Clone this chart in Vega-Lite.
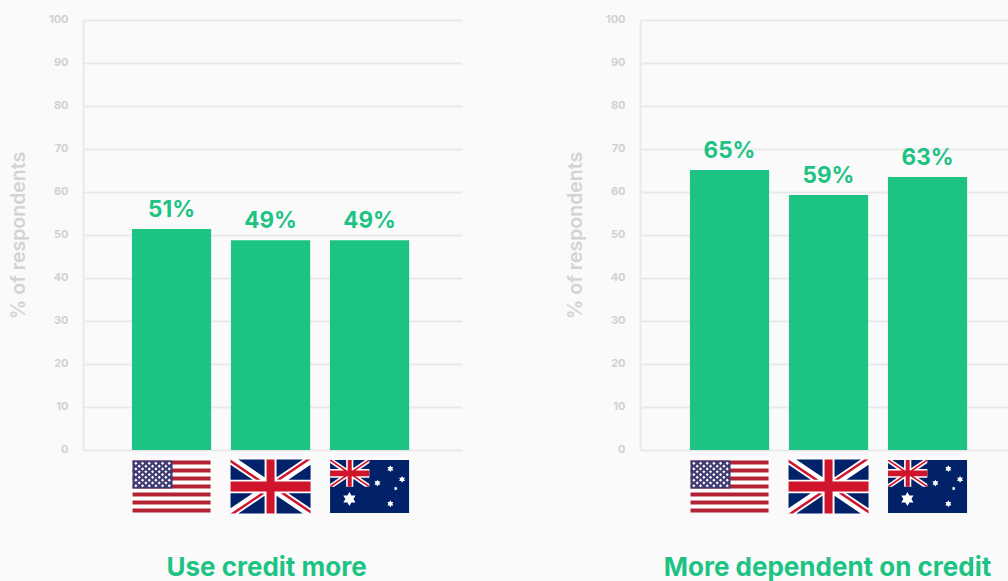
{"$schema":"https://vega.github.io/schema/vega-lite/v6.json","background":"#fafafa","padding":{"left":8,"top":13,"right":0,"bottom":0},"bounds":"flush","spacing":178,"datasets":{"flags":[{"country":"US"},{"country":"UK"},{"country":"AU"}]},"config":{"view":{"stroke":null},"font":"Inter"},"hconcat":[
{"width":379,"height":430,"encoding":{"x":{"field":"country","type":"nominal","axis":null,"sort":null,"scale":{"domain":["US","UK","AU"],"paddingInner":0.2,"paddingOuter":0.514,"align":0.481}}},"resolve":{"scale":{"shape":"independent"}},"layer":[
{"data":{"values":[{"country":"US","value":51.4,"label":"51%"},{"country":"UK","value":48.8,"label":"49%"},{"country":"AU","value":48.8,"label":"49%"}]},"mark":{"type":"bar","color":"#1dc383"},"encoding":{"y":{"field":"value","type":"quantitative","scale":{"domain":[0,100],"nice":false},"axis":{"values":[0,10,20,30,40,50,60,70,80,90,100],"title":"% of respondents","titleFont":"Inter","titleFontSize":19.5,"titleFontWeight":600,"titleColor":"#d3d3d6","titleX":-65,"titleY":215,"titleAlign":"center","titleBaseline":"middle","labelFont":"Inter","labelFontSize":11,"labelFontWeight":700,"labelColor":"#d0d0d4","labelPadding":15,"labelOffset":-1,"ticks":false,"domainColor":"#e9e9eb","domainWidth":2,"gridColor":"#e9e9eb","gridWidth":2,"grid":true}}}},
{"data":{"values":[{"country":"US","value":51.4,"label":"51%"},{"country":"UK","value":48.8,"label":"49%"},{"country":"AU","value":48.8,"label":"49%"}]},"mark":{"type":"text","font":"Inter","fontSize":22.5,"fontWeight":700,"color":"#1dc383","baseline":"bottom","dy":-7},"encoding":{"y":{"field":"value","type":"quantitative"},"text":{"field":"label"}}},
{"data":{"name":"flags"},"mark":{"type":"point","filled":true,"opacity":1,"size":6400,"color":"#ffffff"},"encoding":{"y":{"datum":-8.5},"shape":{"field":"country","type":"nominal","legend":null,"scale":{"domain":["US","UK","AU"],"range":["M-.975 -.65H.975V.65H-.975Z","M-1 -.675H1V.675H-1Z","M0 0Z"]}}}},
{"data":{"name":"flags"},"mark":{"type":"point","filled":true,"opacity":1,"size":6400,"color":"#b22234"},"encoding":{"y":{"datum":-8.5},"shape":{"field":"country","type":"nominal","legend":null,"scale":{"domain":["US","UK","AU"],"range":["M-.975 -.65H.975V-.55H-.975ZM-.975 -.45H.975V-.35H-.975ZM-.975 -.25H.975V-.15H-.975ZM-.975 -.05H.975V.05H-.975ZM-.975 .15H.975V.25H-.975ZM-.975 .35H.975V.45H-.975ZM-.975 .55H.975V.65H-.975Z","M0 0Z","M0 0Z"]}}}},
{"data":{"name":"flags"},"mark":{"type":"point","filled":true,"opacity":1,"size":6400,"color":"#3f3a72"},"encoding":{"y":{"datum":-8.5},"shape":{"field":"country","type":"nominal","legend":null,"scale":{"domain":["US","UK","AU"],"range":["M-.975 -.65H.025V.05H-.975Z","M0 0Z","M0 0Z"]}}}},
{"data":{"name":"flags"},"mark":{"type":"point","filled":true,"opacity":1,"size":6400,"color":"#012169"},"encoding":{"y":{"datum":-8.5},"shape":{"field":"country","type":"nominal","legend":null,"scale":{"domain":["US","UK","AU"],"range":["M0 0Z","M-.807 -.675L-.15 -.675 -.15 -.231ZM-1 -.545L-1 -.17 -.444 -.17ZM.807 -.675L.15 -.675 .15 -.231ZM1 -.545L1 -.17 .444 -.17ZM-.807 .675L-.15 .675 -.15 .231ZM-1 .545L-1 .17 -.444 .17ZM.807 .675L.15 .675 .15 .231ZM1 .545L1 .17 .444 .17Z","M-.9875 -.6625H.9875V.6625H-.9875Z"]}}}},
{"data":{"name":"flags"},"mark":{"type":"point","filled":true,"opacity":1,"size":6400,"color":"#ffffff"},"encoding":{"y":{"datum":-8.5},"shape":{"field":"country","type":"nominal","legend":null,"scale":{"domain":["US","UK","AU"],"range":["M-.892 -.62l.04 .04 -.04 .04 -.04 -.04ZM-.725 -.62l.04 .04 -.04 .04 -.04 -.04ZM-.558 -.62l.04 .04 -.04 .04 -.04 -.04ZM-.392 -.62l.04 .04 -.04 .04 -.04 -.04ZM-.225 -.62l.04 .04 -.04 .04 -.04 -.04ZM-.058 -.62l.04 .04 -.04 .04 -.04 -.04ZM-.808 -.55l.04 .04 -.04 .04 -.04 -.04ZM-.642 -.55l.04 .04 -.04 .04 -.04 -.04ZM-.475 -.55l.04 .04 -.04 .04 -.04 -.04ZM-.308 -.55l.04 .04 -.04 .04 -.04 -.04ZM-.142 -.55l.04 .04 -.04 .04 -.04 -.04ZM-.892 -.48l.04 .04 -.04 .04 -.04 -.04ZM-.725 -.48l.04 .04 -.04 .04 -.04 -.04ZM-.558 -.48l.04 .04 -.04 .04 -.04 -.04ZM-.392 -.48l.04 .04 -.04 .04 -.04 -.04ZM-.225 -.48l.04 .04 -.04 .04 -.04 -.04ZM-.058 -.48l.04 .04 -.04 .04 -.04 -.04ZM-.808 -.41l.04 .04 -.04 .04 -.04 -.04ZM-.642 -.41l.04 .04 -.04 .04 -.04 -.04ZM-.475 -.41l.04 .04 -.04 .04 -.04 -.04ZM-.308 -.41l.04 .04 -.04 .04 -.04 -.04ZM-.142 -.41l.04 .04 -.04 .04 -.04 -.04ZM-.892 -.34l.04 .04 -.04 .04 -.04 -.04ZM-.725 -.34l.04 .04 -.04 .04 -.04 -.04ZM-.558 -.34l.04 .04 -.04 .04 -.04 -.04ZM-.392 -.34l.04 .04 -.04 .04 -.04 -.04ZM-.225 -.34l.04 .04 -.04 .04 -.04 -.04ZM-.058 -.34l.04 .04 -.04 .04 -.04 -.04ZM-.808 -.27l.04 .04 -.04 .04 -.04 -.04ZM-.642 -.27l.04 .04 -.04 .04 -.04 -.04ZM-.475 -.27l.04 .04 -.04 .04 -.04 -.04ZM-.308 -.27l.04 .04 -.04 .04 -.04 -.04ZM-.142 -.27l.04 .04 -.04 .04 -.04 -.04ZM-.892 -.2l.04 .04 -.04 .04 -.04 -.04ZM-.725 -.2l.04 .04 -.04 .04 -.04 -.04ZM-.558 -.2l.04 .04 -.04 .04 -.04 -.04ZM-.392 -.2l.04 .04 -.04 .04 -.04 -.04ZM-.225 -.2l.04 .04 -.04 .04 -.04 -.04ZM-.058 -.2l.04 .04 -.04 .04 -.04 -.04ZM-.808 -.13l.04 .04 -.04 .04 -.04 -.04ZM-.642 -.13l.04 .04 -.04 .04 -.04 -.04ZM-.475 -.13l.04 .04 -.04 .04 -.04 -.04ZM-.308 -.13l.04 .04 -.04 .04 -.04 -.04ZM-.142 -.13l.04 .04 -.04 .04 -.04 -.04ZM-.892 -.06l.04 .04 -.04 .04 -.04 -.04ZM-.725 -.06l.04 .04 -.04 .04 -.04 -.04ZM-.558 -.06l.04 .04 -.04 .04 -.04 -.04ZM-.392 -.06l.04 .04 -.04 .04 -.04 -.04ZM-.225 -.06l.04 .04 -.04 .04 -.04 -.04ZM-.058 -.06l.04 .04 -.04 .04 -.04 -.04Z","M0 0Z","M-.9875 -.6625L-.885 -.6625 -.005 -.065 -.005 .005 -.115 .005 -.9875 -.59ZM-.9875 .005L-.9875 -.065 -.107 -.6625 -.005 -.6625 -.005 -.59 -.885 .005ZM-.586 -.6625H-.406V.005H-.586ZM-.9875 -.439H-.005V-.219H-.9875ZM.52 -.531L.594 -.4035 .446 -.4035ZM.52 -.361L.446 -.4885 .594 -.4885ZM.8125 -.265L.8865 -.1375 .7385 -.1375ZM.8125 -.095L.7385 -.2225 .8865 -.2225ZM.196 -.1725L.27 -.045 .122 -.045ZM.196 -.0025L.122 -.13 .27 -.13ZM.654 -.004L.697 .071 .611 .071ZM.654 .096L.611 .021 .697 .021ZM.52 .345L.594 .4725 .446 .4725ZM.52 .515L.446 .3875 .594 .3875ZM-.504 .1375L-.352 .4 -.656 .4ZM-.504 .4875L-.656 .225 -.352 .225Z"]}}}},
{"data":{"name":"flags"},"mark":{"type":"point","filled":true,"opacity":1,"size":6400,"color":"#cf142b"},"encoding":{"y":{"datum":-8.5},"shape":{"field":"country","type":"nominal","legend":null,"scale":{"domain":["US","UK","AU"],"range":["M0 0Z","M-1 -.675L-.25 -.17 -.363 -.17 -1 -.6ZM1 -.675L.889 -.675 .15 -.176 .25 -.17ZM1 .675L.25 .17 .363 .17 1 .6ZM-1 .675L-.889 .675 -.15 .176 -.25 .17ZM-.1 -.675H.1V.675H-.1ZM-1 -.125H1V.125H-1Z","M-.9875 -.6625L-.95 -.6625 -.005 -.02 -.005 .005 -.04 .005 -.9875 -.64ZM-.9875 .005L-.9875 -.02 -.04 -.6625 -.005 -.6625 -.005 -.64 -.95 .005ZM-.546 -.6625H-.446V.005H-.546ZM-.9875 -.399H-.005V-.259H-.9875Z"]}}}},
{"data":{"values":[{"caption":"Use credit more"}]},"mark":{"type":"text","font":"Inter","fontSize":26,"fontWeight":700,"color":"#1dc383","baseline":"middle","dx":-4},"encoding":{"x":{"datum":"UK"},"y":{"datum":-27.4},"text":{"field":"caption"}}}
]},
{"width":368,"height":430,"encoding":{"x":{"field":"country","type":"nominal","axis":null,"sort":null,"scale":{"domain":["US","UK","AU"],"paddingInner":0.2,"paddingOuter":0.4586,"align":0.55}}},"resolve":{"scale":{"shape":"independent"}},"layer":[
{"data":{"values":[{"country":"US","value":65.1,"label":"65%"},{"country":"UK","value":59.3,"label":"59%"},{"country":"AU","value":63.5,"label":"63%"}]},"mark":{"type":"bar","color":"#1dc383"},"encoding":{"y":{"field":"value","type":"quantitative","scale":{"domain":[0,100],"nice":false},"axis":{"values":[0,10,20,30,40,50,60,70,80,90,100],"title":"% of respondents","titleFont":"Inter","titleFontSize":19.5,"titleFontWeight":600,"titleColor":"#d3d3d6","titleX":-65,"titleY":215,"titleAlign":"center","titleBaseline":"middle","labelFont":"Inter","labelFontSize":11,"labelFontWeight":700,"labelColor":"#d0d0d4","labelPadding":15,"labelOffset":-1,"ticks":false,"domainColor":"#e9e9eb","domainWidth":2,"gridColor":"#e9e9eb","gridWidth":2,"grid":true}}}},
{"data":{"values":[{"country":"US","value":65.1,"label":"65%"},{"country":"UK","value":59.3,"label":"59%"},{"country":"AU","value":63.5,"label":"63%"}]},"mark":{"type":"text","font":"Inter","fontSize":22.5,"fontWeight":700,"color":"#1dc383","baseline":"bottom","dy":-7},"encoding":{"y":{"field":"value","type":"quantitative"},"text":{"field":"label"}}},
{"data":{"name":"flags"},"mark":{"type":"point","filled":true,"opacity":1,"size":6400,"color":"#ffffff"},"encoding":{"y":{"datum":-8.5},"shape":{"field":"country","type":"nominal","legend":null,"scale":{"domain":["US","UK","AU"],"range":["M-.975 -.65H.975V.65H-.975Z","M-1 -.675H1V.675H-1Z","M0 0Z"]}}}},
{"data":{"name":"flags"},"mark":{"type":"point","filled":true,"opacity":1,"size":6400,"color":"#b22234"},"encoding":{"y":{"datum":-8.5},"shape":{"field":"country","type":"nominal","legend":null,"scale":{"domain":["US","UK","AU"],"range":["M-.975 -.65H.975V-.55H-.975ZM-.975 -.45H.975V-.35H-.975ZM-.975 -.25H.975V-.15H-.975ZM-.975 -.05H.975V.05H-.975ZM-.975 .15H.975V.25H-.975ZM-.975 .35H.975V.45H-.975ZM-.975 .55H.975V.65H-.975Z","M0 0Z","M0 0Z"]}}}},
{"data":{"name":"flags"},"mark":{"type":"point","filled":true,"opacity":1,"size":6400,"color":"#3f3a72"},"encoding":{"y":{"datum":-8.5},"shape":{"field":"country","type":"nominal","legend":null,"scale":{"domain":["US","UK","AU"],"range":["M-.975 -.65H.025V.05H-.975Z","M0 0Z","M0 0Z"]}}}},
{"data":{"name":"flags"},"mark":{"type":"point","filled":true,"opacity":1,"size":6400,"color":"#012169"},"encoding":{"y":{"datum":-8.5},"shape":{"field":"country","type":"nominal","legend":null,"scale":{"domain":["US","UK","AU"],"range":["M0 0Z","M-.807 -.675L-.15 -.675 -.15 -.231ZM-1 -.545L-1 -.17 -.444 -.17ZM.807 -.675L.15 -.675 .15 -.231ZM1 -.545L1 -.17 .444 -.17ZM-.807 .675L-.15 .675 -.15 .231ZM-1 .545L-1 .17 -.444 .17ZM.807 .675L.15 .675 .15 .231ZM1 .545L1 .17 .444 .17Z","M-.9875 -.6625H.9875V.6625H-.9875Z"]}}}},
{"data":{"name":"flags"},"mark":{"type":"point","filled":true,"opacity":1,"size":6400,"color":"#ffffff"},"encoding":{"y":{"datum":-8.5},"shape":{"field":"country","type":"nominal","legend":null,"scale":{"domain":["US","UK","AU"],"range":["M-.892 -.62l.04 .04 -.04 .04 -.04 -.04ZM-.725 -.62l.04 .04 -.04 .04 -.04 -.04ZM-.558 -.62l.04 .04 -.04 .04 -.04 -.04ZM-.392 -.62l.04 .04 -.04 .04 -.04 -.04ZM-.225 -.62l.04 .04 -.04 .04 -.04 -.04ZM-.058 -.62l.04 .04 -.04 .04 -.04 -.04ZM-.808 -.55l.04 .04 -.04 .04 -.04 -.04ZM-.642 -.55l.04 .04 -.04 .04 -.04 -.04ZM-.475 -.55l.04 .04 -.04 .04 -.04 -.04ZM-.308 -.55l.04 .04 -.04 .04 -.04 -.04ZM-.142 -.55l.04 .04 -.04 .04 -.04 -.04ZM-.892 -.48l.04 .04 -.04 .04 -.04 -.04ZM-.725 -.48l.04 .04 -.04 .04 -.04 -.04ZM-.558 -.48l.04 .04 -.04 .04 -.04 -.04ZM-.392 -.48l.04 .04 -.04 .04 -.04 -.04ZM-.225 -.48l.04 .04 -.04 .04 -.04 -.04ZM-.058 -.48l.04 .04 -.04 .04 -.04 -.04ZM-.808 -.41l.04 .04 -.04 .04 -.04 -.04ZM-.642 -.41l.04 .04 -.04 .04 -.04 -.04ZM-.475 -.41l.04 .04 -.04 .04 -.04 -.04ZM-.308 -.41l.04 .04 -.04 .04 -.04 -.04ZM-.142 -.41l.04 .04 -.04 .04 -.04 -.04ZM-.892 -.34l.04 .04 -.04 .04 -.04 -.04ZM-.725 -.34l.04 .04 -.04 .04 -.04 -.04ZM-.558 -.34l.04 .04 -.04 .04 -.04 -.04ZM-.392 -.34l.04 .04 -.04 .04 -.04 -.04ZM-.225 -.34l.04 .04 -.04 .04 -.04 -.04ZM-.058 -.34l.04 .04 -.04 .04 -.04 -.04ZM-.808 -.27l.04 .04 -.04 .04 -.04 -.04ZM-.642 -.27l.04 .04 -.04 .04 -.04 -.04ZM-.475 -.27l.04 .04 -.04 .04 -.04 -.04ZM-.308 -.27l.04 .04 -.04 .04 -.04 -.04ZM-.142 -.27l.04 .04 -.04 .04 -.04 -.04ZM-.892 -.2l.04 .04 -.04 .04 -.04 -.04ZM-.725 -.2l.04 .04 -.04 .04 -.04 -.04ZM-.558 -.2l.04 .04 -.04 .04 -.04 -.04ZM-.392 -.2l.04 .04 -.04 .04 -.04 -.04ZM-.225 -.2l.04 .04 -.04 .04 -.04 -.04ZM-.058 -.2l.04 .04 -.04 .04 -.04 -.04ZM-.808 -.13l.04 .04 -.04 .04 -.04 -.04ZM-.642 -.13l.04 .04 -.04 .04 -.04 -.04ZM-.475 -.13l.04 .04 -.04 .04 -.04 -.04ZM-.308 -.13l.04 .04 -.04 .04 -.04 -.04ZM-.142 -.13l.04 .04 -.04 .04 -.04 -.04ZM-.892 -.06l.04 .04 -.04 .04 -.04 -.04ZM-.725 -.06l.04 .04 -.04 .04 -.04 -.04ZM-.558 -.06l.04 .04 -.04 .04 -.04 -.04ZM-.392 -.06l.04 .04 -.04 .04 -.04 -.04ZM-.225 -.06l.04 .04 -.04 .04 -.04 -.04ZM-.058 -.06l.04 .04 -.04 .04 -.04 -.04Z","M0 0Z","M-.9875 -.6625L-.885 -.6625 -.005 -.065 -.005 .005 -.115 .005 -.9875 -.59ZM-.9875 .005L-.9875 -.065 -.107 -.6625 -.005 -.6625 -.005 -.59 -.885 .005ZM-.586 -.6625H-.406V.005H-.586ZM-.9875 -.439H-.005V-.219H-.9875ZM.52 -.531L.594 -.4035 .446 -.4035ZM.52 -.361L.446 -.4885 .594 -.4885ZM.8125 -.265L.8865 -.1375 .7385 -.1375ZM.8125 -.095L.7385 -.2225 .8865 -.2225ZM.196 -.1725L.27 -.045 .122 -.045ZM.196 -.0025L.122 -.13 .27 -.13ZM.654 -.004L.697 .071 .611 .071ZM.654 .096L.611 .021 .697 .021ZM.52 .345L.594 .4725 .446 .4725ZM.52 .515L.446 .3875 .594 .3875ZM-.504 .1375L-.352 .4 -.656 .4ZM-.504 .4875L-.656 .225 -.352 .225Z"]}}}},
{"data":{"name":"flags"},"mark":{"type":"point","filled":true,"opacity":1,"size":6400,"color":"#cf142b"},"encoding":{"y":{"datum":-8.5},"shape":{"field":"country","type":"nominal","legend":null,"scale":{"domain":["US","UK","AU"],"range":["M0 0Z","M-1 -.675L-.25 -.17 -.363 -.17 -1 -.6ZM1 -.675L.889 -.675 .15 -.176 .25 -.17ZM1 .675L.25 .17 .363 .17 1 .6ZM-1 .675L-.889 .675 -.15 .176 -.25 .17ZM-.1 -.675H.1V.675H-.1ZM-1 -.125H1V.125H-1Z","M-.9875 -.6625L-.95 -.6625 -.005 -.02 -.005 .005 -.04 .005 -.9875 -.64ZM-.9875 .005L-.9875 -.02 -.04 -.6625 -.005 -.6625 -.005 -.64 -.95 .005ZM-.546 -.6625H-.446V.005H-.546ZM-.9875 -.399H-.005V-.259H-.9875Z"]}}}},
{"data":{"values":[{"caption":"More dependent on credit"}]},"mark":{"type":"text","font":"Inter","fontSize":26,"fontWeight":700,"color":"#1dc383","baseline":"middle","dx":-1},"encoding":{"x":{"datum":"UK"},"y":{"datum":-27.4},"text":{"field":"caption"}}}
]}
]}
